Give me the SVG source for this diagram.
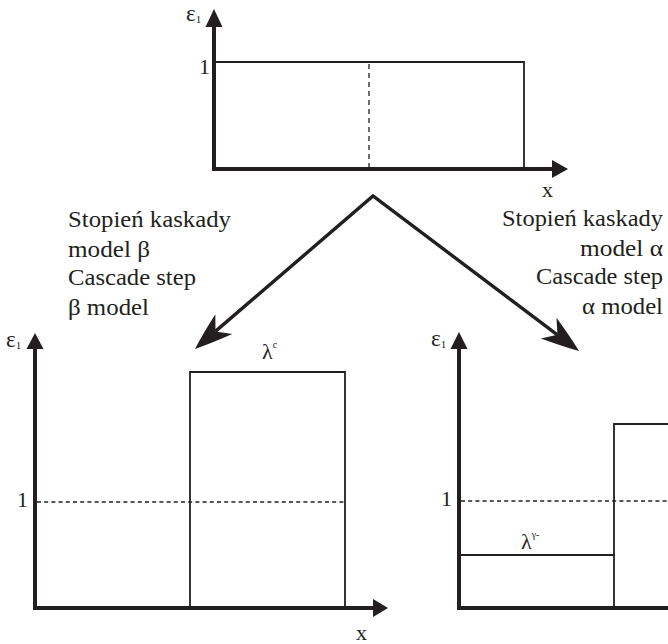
<svg xmlns="http://www.w3.org/2000/svg" xmlns:xlink="http://www.w3.org/1999/xlink" width="668" height="644" viewBox="0 0 668 644" font-family="'Liberation Serif', 'DejaVu Serif', 'Times New Roman', serif">
<style>
text{font-family:'Liberation Serif','DejaVu Serif','Times New Roman',serif;fill:#231f20}
.lbl{font-size:22.5px}
.num{font-size:22px}
.eps{font-size:23px}
.sub{font-size:11px}
.sup{font-size:10px}
.axis{stroke:#231f20;stroke-width:4;fill:none}
.thin{stroke:#231f20;stroke-width:1.8;fill:none}
.dash{stroke:#231f20;stroke-width:1.3;fill:none;stroke-dasharray:4 3.2}
.head{fill:#231f20}
.conn{stroke:#231f20;stroke-width:3.4;fill:none;stroke-linejoin:miter}
</style>
<defs>
<path id="swallow" d="M0,0 Q-15,-6 -38,-13 L-27,0 L-38,13 Q-15,6 0,0Z"/>
</defs>
<rect width="668" height="644" fill="#fff"/>

<g id="chart-top">
<polyline class="thin" points="214,62 524,62 524,169"/>
<line class="dash" x1="369" y1="64" x2="369" y2="169" style="stroke-dasharray:5 4"/>
<line class="axis" x1="214" y1="171" x2="214" y2="25"/>
<polygon class="head" points="214,9 205.5,27 222.5,27"/>
<line class="axis" x1="212" y1="169" x2="554" y2="169"/>
<polygon class="head" points="568,169 552,160 552,178"/>
<text class="eps" x="186" y="21">ε<tspan class="sub" dy="2">1</tspan></text>
<text class="num" x="199" y="74">1</text>
<text class="num" x="542" y="197">x</text>
</g>

<g id="chart-left">
<polyline class="thin" points="190,608 190,372 345,372 345,608"/>
<line class="dash" x1="37" y1="502" x2="345" y2="502"/>
<line class="axis" x1="35" y1="610" x2="35" y2="347"/>
<polygon class="head" points="35,333 26.5,349 43.5,349"/>
<line class="axis" x1="33" y1="608" x2="375" y2="608"/>
<polygon class="head" points="388,608 373,599 373,617"/>
<text class="eps" x="6" y="347">ε<tspan class="sub" dy="2">1</tspan></text>
<text class="num" x="17" y="507">1</text>
<text class="num" x="356" y="640">x</text>
<text class="num" x="262" y="359">λ<tspan class="sup" dy="-11">c</tspan></text>
</g>

<g id="chart-right">
<polyline class="thin" points="459,555 614,555"/>
<polyline class="thin" points="614,608 614,424 670,424"/>
<line class="dash" x1="461" y1="501" x2="670" y2="501"/>
<line class="axis" x1="459" y1="610" x2="459" y2="347"/>
<polygon class="head" points="459,332 450.5,349 467.5,349"/>
<line class="axis" x1="457" y1="608" x2="670" y2="608"/>
<text class="eps" x="431" y="346">ε<tspan class="sub" dy="2">1</tspan></text>
<text class="num" x="441" y="506">1</text>
<text class="num" x="521" y="549">λ<tspan class="sup" dy="-11">γ-</tspan></text>
</g>

<g id="labels-left">
<text class="lbl" x="68" y="227" textLength="163" lengthAdjust="spacingAndGlyphs">Stopień kaskady</text>
<text class="lbl" x="68" y="257" textLength="82" lengthAdjust="spacingAndGlyphs">model β</text>
<text class="lbl" x="68" y="285" textLength="128" lengthAdjust="spacingAndGlyphs">Cascade step</text>
<text class="lbl" x="68" y="315" textLength="81" lengthAdjust="spacingAndGlyphs">β model</text>
</g>

<g id="labels-right">
<text class="lbl" x="502" y="226" textLength="161" lengthAdjust="spacingAndGlyphs">Stopień kaskady</text>
<text class="lbl" x="580" y="256" textLength="83" lengthAdjust="spacingAndGlyphs">model α</text>
<text class="lbl" x="536" y="284" textLength="127" lengthAdjust="spacingAndGlyphs">Cascade step</text>
<text class="lbl" x="582" y="314" textLength="81" lengthAdjust="spacingAndGlyphs">α model</text>
</g>

<g id="connectors">
<polyline class="conn" points="215.4,331.4 373,196 557.4,334.8"/>
<use href="#swallow" xlink:href="#swallow" class="head" transform="translate(195,349) rotate(139.3)"/>
<use href="#swallow" xlink:href="#swallow" class="head" transform="translate(579,351) rotate(37)"/>
</g>
</svg>
